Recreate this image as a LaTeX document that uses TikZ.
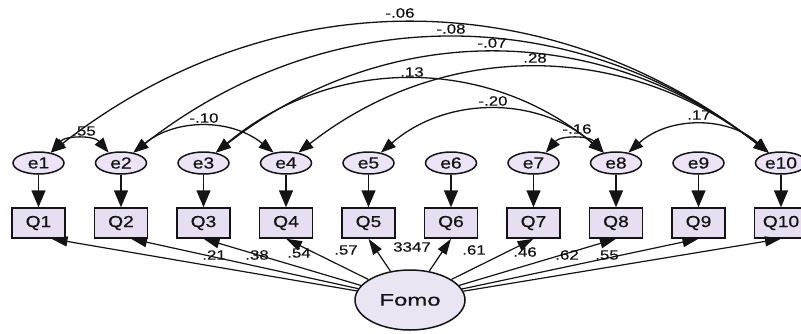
\documentclass[tikz,border=0pt]{standalone}
\usepackage{fontspec}
\setmainfont{Liberation Sans}
\newfontfamily\amosfont[FakeStretch=1.2,FakeBold=0.6]{Liberation Sans}
\newfontfamily\fomofont[FakeStretch=1.45,FakeBold=0.6]{Liberation Sans}
\newfontfamily\lblfont[FakeStretch=1.25,FakeBold=0.4]{Liberation Sans}
\usetikzlibrary{arrows.meta,shapes.geometric}
\definecolor{efill}{RGB}{236,228,245}
\definecolor{qfill}{RGB}{231,223,241}
\definecolor{ffill}{RGB}{233,229,243}
\definecolor{ink}{RGB}{20,20,20}
\begin{document}
\begin{tikzpicture}[x=1pt,y=1pt,
 errnode/.style={ellipse,draw=ink,line width=1.5pt,fill=efill,minimum width=51pt,minimum height=22pt,inner sep=0pt,text=ink,font=\amosfont\fontsize{16}{16}\selectfont},
 obsnode/.style={rectangle,draw=ink,line width=1.5pt,fill=qfill,minimum width=53pt,minimum height=30pt,inner sep=0pt,text=ink,font=\amosfont\fontsize{16}{16}\selectfont},
 latnode/.style={ellipse,draw=ink,line width=1.5pt,fill=ffill,minimum width=110pt,minimum height=60pt,inner sep=0pt,text=ink,font=\fomofont\fontsize{16.5}{16.5}\selectfont},
 errarr/.style={draw=ink,line width=1.5pt,-{Triangle[length=17pt,width=14pt]}},
 loadarr/.style={draw=ink,line width=1.2pt,-{Triangle[length=16pt,width=10pt]}},
 covarr/.style={draw=ink,line width=1.3pt,{Triangle[length=15pt,width=11pt]}-{Triangle[length=15pt,width=11pt]}},
 lbl/.style={inner sep=0pt,text=ink,font=\lblfont\fontsize{13.5}{13.5}\selectfont}
]
\useasboundingbox (0,0) rectangle (801,-333);
\fill[white] (0,0) rectangle (801,-333);

\foreach \i in {1,...,10}{
  \pgfmathsetmacro\xx{38.5+82.5*(\i-1)}
  \node[errnode] (e\i) at (\xx,-163) {e\i};
  \node[obsnode] (Q\i) at (\xx,-223) {Q\i};
  \draw[errarr] (e\i) -- (Q\i);
}

\node[latnode] (Fomo) at (410,-300) {Fomo};

% loadings
\draw[loadarr] (Fomo) -- ([xshift=13pt]Q1.south);
\draw[loadarr] (Fomo) -- ([xshift=10pt]Q2.south);
\draw[loadarr] (Fomo) -- (Q3.south);
\draw[loadarr] (Fomo) -- (Q4.south);
\draw[loadarr] (Fomo) -- (Q5.south);
\draw[loadarr] (Fomo) -- (Q6.south);
\draw[loadarr] (Fomo) -- (Q7.south);
\draw[loadarr] (Fomo) -- (Q8.south);
\draw[loadarr] (Fomo) -- (Q9.south);
\draw[loadarr] (Fomo) -- (Q10.south);

\node[lbl] (L1) at (214,-255) {.21};
\node[lbl] (L2) at (257,-255) {.38};
\node[lbl] (L3) at (299,-253) {.54};
\node[lbl] (L4) at (346,-250) {.57};
\node[lbl] (L5) at (412,-247) {3347};
\node[lbl] (L7) at (474,-250) {.61};
\node[lbl] (L8) at (525,-252) {.46};
\node[lbl] (L9) at (567,-255) {.62};
\node[lbl] (L10) at (607,-255) {.55};

% covariances
\draw[covarr] (e1.40) to[out=38,in=142] (e10.140);
\draw[covarr] (e2.40) to[out=38,in=142] (e10.140);
\draw[covarr] (e3.40) to[out=38,in=142] (e10.140);
\draw[covarr] (e4.40) to[out=38,in=142] (e10.140);
\draw[covarr] (e3.40) to[out=40,in=140] (e8.140);
\draw[covarr] (e5.40) to[out=41,in=139] (e8.140);
\draw[covarr] (e8.40) to[out=42,in=138] (e10.140);
\draw[covarr] (e2.40) to[out=39,in=141] (e4.140);
\draw[covarr] (e1.40) to[out=50,in=130] (e2.140);
\draw[covarr] (e7.40) to[out=50,in=130] (e8.140);

\node[lbl] (C1) at (400,-13) {-.06};
\node[lbl] (C2) at (451,-29) {-.08};
\node[lbl] (C3) at (492,-43) {-.07};
\node[lbl] (C4) at (535,-58) {.28};
\node[lbl] (C5) at (412,-72) {.13};
\node[lbl] (C6) at (493,-101) {-.20};
\node[lbl] (C7) at (699,-115) {.17};
\node[lbl] (C8) at (204,-118) {-.10};
\node[lbl] (C9) at (84,-131) {.55};
\node[lbl] (C10) at (577,-129) {-.16};
\end{tikzpicture}
\end{document}
